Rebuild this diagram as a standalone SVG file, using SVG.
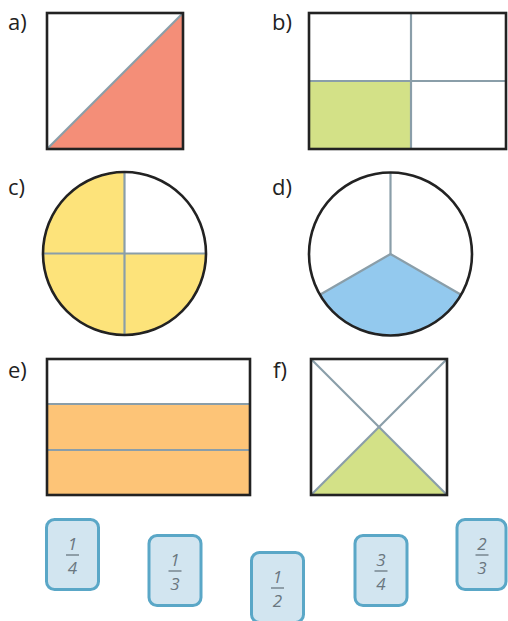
<svg xmlns="http://www.w3.org/2000/svg" width="508" height="621" viewBox="0 0 508 621">
<style>
.lbl{font-family:"Open Sans","Liberation Sans",sans-serif;font-size:22px;fill:#222}
.out{fill:none;stroke:#222;stroke-width:2.6}
.div{stroke:#8a9ea9;stroke-width:2.2;fill:none}
.card{fill:#d2e5f0;stroke:#5aa7c7;stroke-width:3}
.fr{font-family:"Open Sans","Liberation Sans",sans-serif;font-size:17px;font-style:italic;fill:#6a7780;text-anchor:middle}
.bar{stroke:#6a7780;stroke-width:1.3}
</style>
<rect width="508" height="621" fill="#fff"/>
<g id="a">
<text class="lbl" x="8" y="30">a)</text>
<polygon points="47,149 183,13 183,149" fill="#f48e78"/>
<line class="div" x1="47" y1="149" x2="183" y2="13"/>
<rect class="out" x="47" y="13" width="136" height="136"/>
</g>
<g id="b">
<text class="lbl" x="272" y="30">b)</text>
<rect x="309" y="81" width="102" height="68" fill="#d3e187"/>
<line class="div" x1="411" y1="13" x2="411" y2="149"/>
<line class="div" x1="309" y1="81" x2="506" y2="81"/>
<rect class="out" x="309" y="13" width="197" height="136"/>
</g>
<g id="c">
<text class="lbl" x="8" y="195">c)</text>
<path d="M124.5,253.5 L124.5,172 A81.5,81.5 0 1 0 206,253.5 Z" fill="#fde37a"/>
<line class="div" x1="124.5" y1="172" x2="124.5" y2="335"/>
<line class="div" x1="43" y1="253.5" x2="206" y2="253.5"/>
<circle class="out" cx="124.5" cy="253.5" r="81.5"/>
</g>
<g id="d">
<text class="lbl" x="272" y="195">d)</text>
<path d="M390.5,254 L319.9,294.75 A81.5,81.5 0 0 0 461.1,294.75 Z" fill="#93c9ee"/>
<polyline class="div" points="319.9,294.75 390.5,254 461.1,294.75"/>
<line class="div" x1="390.5" y1="254" x2="390.5" y2="172.5"/>
<circle class="out" cx="390.5" cy="254" r="81.5"/>
</g>
<g id="e">
<text class="lbl" x="8" y="378">e)</text>
<rect x="47" y="404" width="203" height="91" fill="#fdc477"/>
<line class="div" x1="47" y1="404" x2="250" y2="404"/>
<line class="div" x1="47" y1="450" x2="250" y2="450"/>
<rect class="out" x="47" y="359" width="203" height="136"/>
</g>
<g id="f">
<text class="lbl" x="273" y="378">f)</text>
<polygon points="311,495 379,427 447,495" fill="#d3e187"/>
<line class="div" x1="311" y1="359" x2="447" y2="495"/>
<line class="div" x1="447" y1="359" x2="311" y2="495"/>
<rect class="out" x="311" y="359" width="136" height="136"/>
</g>
<g id="card-1-4">
<rect class="card" x="46.5" y="519.5" width="52" height="70" rx="8"/>
<text class="fr" x="72.5" y="550">1</text><line class="bar" x1="66" y1="555" x2="79" y2="555"/><text class="fr" x="72.5" y="574">4</text>
</g>
<g id="card-1-3">
<rect class="card" x="149" y="535.5" width="52" height="70" rx="8"/>
<text class="fr" x="175" y="566">1</text><line class="bar" x1="168.5" y1="571" x2="181.5" y2="571"/><text class="fr" x="175" y="590">3</text>
</g>
<g id="card-1-2">
<rect class="card" x="251.5" y="552.5" width="52" height="70" rx="8"/>
<text class="fr" x="277.5" y="583">1</text><line class="bar" x1="271" y1="588" x2="284" y2="588"/><text class="fr" x="277.5" y="607">2</text>
</g>
<g id="card-3-4">
<rect class="card" x="355" y="535.5" width="52" height="70" rx="8"/>
<text class="fr" x="381" y="566">3</text><line class="bar" x1="374.5" y1="571" x2="387.5" y2="571"/><text class="fr" x="381" y="590">4</text>
</g>
<g id="card-2-3">
<rect class="card" x="457" y="519.5" width="49" height="70" rx="8"/>
<text class="fr" x="482" y="550">2</text><line class="bar" x1="475.5" y1="555" x2="488.5" y2="555"/><text class="fr" x="482" y="574">3</text>
</g>
<g id="connectors"></g>
</svg>
